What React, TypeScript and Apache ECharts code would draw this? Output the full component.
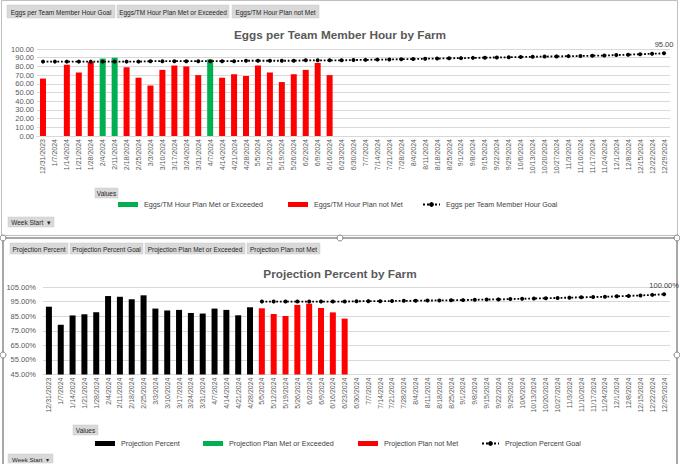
import React, { useEffect, useRef } from 'react';
import * as echarts from 'echarts';

const weeks = [
  '12/31/2023', '1/7/2024', '1/14/2024', '1/21/2024', '1/28/2024', '2/4/2024', '2/11/2024', '2/18/2024',
  '2/25/2024', '3/3/2024', '3/10/2024', '3/17/2024', '3/24/2024', '3/31/2024', '4/7/2024', '4/14/2024',
  '4/21/2024', '4/28/2024', '5/5/2024', '5/12/2024', '5/19/2024', '5/26/2024', '6/2/2024', '6/9/2024',
  '6/16/2024', '6/23/2024', '6/30/2024', '7/7/2024', '7/14/2024', '7/21/2024', '7/28/2024', '8/4/2024',
  '8/11/2024', '8/18/2024', '8/25/2024', '9/1/2024', '9/8/2024', '9/15/2024', '9/22/2024', '9/29/2024',
  '10/6/2024', '10/13/2024', '10/20/2024', '10/27/2024', '11/3/2024', '11/10/2024', '11/17/2024',
  '11/24/2024', '12/1/2024', '12/8/2024', '12/15/2024', '12/22/2024', '12/29/2024',
];

// Chart 1: Eggs per Team Member Hour
const eggsPlanMet = [null, null, null, null, null, 89, 90, null, null, null, null, null, null, null, 88];
const eggsPlanNotMet = [66, null, 82, 73, 85, null, null, 79, 67, 58, 76, 81, 80, 70, null, 67, 71, 69, 81, 73, 62, 71, 76, 84, 70];
const eggsGoal = [
  85.5, 85.5, 85.5, 85.5, 85.5, 85.5, 85.5, 85.5, 85.5, 86, 86, 86, 86,
  86, 86, 86, 86, 86.5, 86.5, 86.5, 86.5, 86.5, 87, 87, 87,
  87, 87.3, 87.5, 87.8, 88, 88.3, 88.5, 88.8, 89, 89.3, 89.5, 89.8, 90, 90.3,
  90.5, 90.8, 91, 91.3, 91.5, 91.8, 92, 92.3, 92.5, 93, 93.5, 94, 94.5, 95,
];
const eggsTicks = { min: 0, max: 100, interval: 10 };

// Chart 2: Projection Percent
const projPercent = [91.5, 79.1, 85.5, 86.3, 87.7, 98.8, 98.3, 96.6, 99.3, 90.2, 88.9, 89.3, 87.2, 86.8, 90.2, 89.3, 85.6, 91.1];
const projPlanMet: (number | null)[] = [];
const projPlanNotMet = [
  null, null, null, null, null, null, null, null, null, null, null, null, null, null, null, null, null, null,
  90.4, 86.5, 85.1, 92.7, 93.6, 90.6, 87.6, 83.3,
];
const projGoal = [
  null, null, null, null, null, null, null, null, null, null, null, null, null, null, null, null, null, null,
  95, 95, 95, 95, 95, 95, 95, 95, 95.2, 95.3, 95.3, 95.4, 95.5, 95.6, 95.7, 95.8, 95.9,
  96, 96.2, 96.4, 96.5, 96.7, 96.9, 97.1, 97.3, 97.5, 97.7, 97.9, 98.1, 98.3, 98.6, 98.9, 99.2, 99.6, 100,
];
const projTicks = { min: 45, max: 105, interval: 10 };

const pad = (arr: (number | null)[]) => weeks.map((_, i) => (i < arr.length ? arr[i] : null));

const FONT = 'Liberation Sans';
const GREY = '#595959';
const GREEN = '#00b050';
const RED = '#ff0000';

function button(x: number, y: number, w: number, h: number, text: string, fs = 6.5) {
  return {
    type: 'group',
    children: [
      { type: 'rect', shape: { x, y, width: w, height: h }, style: { fill: '#d9d9d9', stroke: '#c8c8c8', lineWidth: 0.5 } },
      {
        type: 'text',
        style: { text, x: x + w / 2, y: y + h / 2 + 0.5, align: 'center', verticalAlign: 'middle', fontSize: fs, fontFamily: FONT, fill: '#262626' },
      },
    ],
  };
}

function handle(x: number, y: number) {
  return { type: 'circle', shape: { cx: x, cy: y, r: 3 }, style: { fill: '#ffffff', stroke: '#7f7f7f', lineWidth: 1 }, z: 20 };
}

export default function App() {
  const ref = useRef<HTMLDivElement>(null);
  useEffect(() => {
    if (!ref.current) return;
    const chart = echarts.init(ref.current, undefined, { renderer: 'svg' });

    const xAxisBase = {
      type: 'category',
      data: weeks,
      boundaryGap: true,
      axisTick: { show: false },
      axisLine: { show: true, lineStyle: { color: '#d9d9d9', width: 1 } },
      axisLabel: { rotate: 90, interval: 0, fontSize: 7, fontFamily: FONT, color: '#595959', margin: 3 },
    };
    const legendText = { fontSize: 7.2, fontFamily: FONT, color: '#404040', padding: [0, 0, 0, 1] };
    const legendItem = (name: string, left: number, top: number, isLine = false) => ({
      data: [name],
      left,
      top,
      padding: 0,
      itemWidth: isLine ? 17 : 20,
      itemHeight: isLine ? 6 : 5,
      itemGap: 0,
      textStyle: legendText,
      selectedMode: false,
      ...(isLine ? {} : { icon: 'rect' }),
    });
    const goalLine = {
      type: 'line',
      symbol: 'circle',
      symbolSize: 4,
      itemStyle: { color: '#000000' },
      lineStyle: { color: '#000000', width: 1.8, type: 'dotted' },
      z: 5,
      connectNulls: false,
    };

    const lastLabel = (arr: (number | null)[], suffix: string) =>
      pad(arr).map((v, i) =>
        i === weeks.length - 1 && v != null
          ? { value: v, label: { show: true, position: 'top', distance: 3, fontSize: 7.5, fontFamily: FONT, color: '#404040', formatter: v.toFixed(2) + suffix } }
          : v
      );

    chart.setOption({
      animation: false,
      backgroundColor: '#ffffff',
      textStyle: { fontFamily: FONT },
      title: [
        { text: 'Eggs per Team Member Hour by Farm', left: 'center', top: 24, textStyle: { fontSize: 11.8, fontWeight: 'bold', color: GREY, fontFamily: FONT } },
        { text: 'Projection Percent by Farm', left: 'center', top: 263, textStyle: { fontSize: 11.8, fontWeight: 'bold', color: GREY, fontFamily: FONT } },
      ],
      grid: [
        { left: 37, right: 10, top: 49, height: 87 },
        { left: 43, right: 10, top: 287, height: 87.5 },
      ],
      xAxis: [
        { ...xAxisBase, gridIndex: 0 },
        { ...xAxisBase, gridIndex: 1 },
      ],
      yAxis: [
        {
          type: 'value', gridIndex: 0, ...eggsTicks,
          axisLabel: { fontSize: 7.5, fontFamily: FONT, color: GREY, margin: 3, formatter: (v: number) => v.toFixed(2) },
          splitLine: { lineStyle: { color: '#d9d9d9', width: 1 } },
          axisLine: { show: false }, axisTick: { show: false },
        },
        {
          type: 'value', gridIndex: 1, ...projTicks,
          axisLabel: { fontSize: 7.5, fontFamily: FONT, color: GREY, margin: 7, formatter: (v: number) => v.toFixed(2) + '%' },
          splitLine: { lineStyle: { color: '#d9d9d9', width: 1 } },
          axisLine: { show: false }, axisTick: { show: false },
        },
      ],
      legend: [
        legendItem('Eggs/TM Hour Plan Met or Exceeded', 118, 201),
        legendItem('Eggs/TM Hour Plan not Met', 288, 201),
        legendItem('Eggs per Team Member Hour Goal', 422, 201, true),
        legendItem('Projection Percent', 95, 440),
        legendItem('Projection Plan Met or Exceeded', 203, 440),
        legendItem('Projection Plan not Met', 358, 440),
        legendItem('Projection Percent Goal', 481, 440, true),
      ],
      series: [
        {
          name: 'Eggs/TM Hour Plan Met or Exceeded', type: 'bar', xAxisIndex: 0, yAxisIndex: 0,
          data: pad(eggsPlanMet), barWidth: 6, barGap: '-100%', itemStyle: { color: GREEN },
        },
        {
          name: 'Eggs/TM Hour Plan not Met', type: 'bar', xAxisIndex: 0, yAxisIndex: 0,
          data: pad(eggsPlanNotMet), barWidth: 6, barGap: '-100%', itemStyle: { color: RED },
        },
        {
          ...goalLine, name: 'Eggs per Team Member Hour Goal', xAxisIndex: 0, yAxisIndex: 0,
          data: lastLabel(eggsGoal, ''),
        },
        {
          name: 'Projection Percent', type: 'bar', xAxisIndex: 1, yAxisIndex: 1,
          data: pad(projPercent), barWidth: 6, barGap: '-100%', itemStyle: { color: '#000000' },
        },
        {
          name: 'Projection Plan Met or Exceeded', type: 'bar', xAxisIndex: 1, yAxisIndex: 1,
          data: pad(projPlanMet), barWidth: 6, barGap: '-100%', itemStyle: { color: GREEN },
        },
        {
          name: 'Projection Plan not Met', type: 'bar', xAxisIndex: 1, yAxisIndex: 1,
          data: pad(projPlanNotMet), barWidth: 6, barGap: '-100%', itemStyle: { color: RED },
        },
        {
          ...goalLine, name: 'Projection Percent Goal', xAxisIndex: 1, yAxisIndex: 1,
          data: lastLabel(projGoal, '%'),
        },
      ],
      graphic: [
        { type: 'rect', shape: { x: 1.5, y: 0.5, width: 676, height: 235 }, style: { fill: 'none', stroke: '#bfbfbf', lineWidth: 1 }, silent: true },
        { type: 'rect', shape: { x: 3, y: 238, width: 674, height: 232 }, style: { fill: 'none', stroke: '#8c8c8c', lineWidth: 1.5 }, silent: true },
        handle(3, 238), handle(340, 238), handle(677, 238), handle(677, 355), handle(3, 355),
        button(7, 5, 108, 13, 'Eggs per Team Member Hour Goal'),
        button(117, 5, 112, 13, 'Eggs/TM Hour Plan Met or Exceeded'),
        button(232, 5, 87, 13, 'Eggs/TM Hour Plan not Met'),
        button(95, 188, 23, 10, 'Values'),
        button(8, 217, 46, 10, 'Week Start  \u25BE'),
        button(10, 243, 58, 11, 'Projection Percent'),
        button(70, 243, 73, 11, 'Projection Percent Goal'),
        button(145, 243, 100, 11, 'Projection Plan Met or Exceeded'),
        button(247, 243, 73, 11, 'Projection Plan not Met'),
        button(73, 425, 25, 10, 'Values'),
        button(8, 454, 45, 9, 'Week Start  \u25BE', 6.2),
      ],
    });
    return () => chart.dispose();
  }, []);

  return <div ref={ref} style={{ position: 'fixed', left: 0, top: 0, width: 680, height: 464 }} />;
}
